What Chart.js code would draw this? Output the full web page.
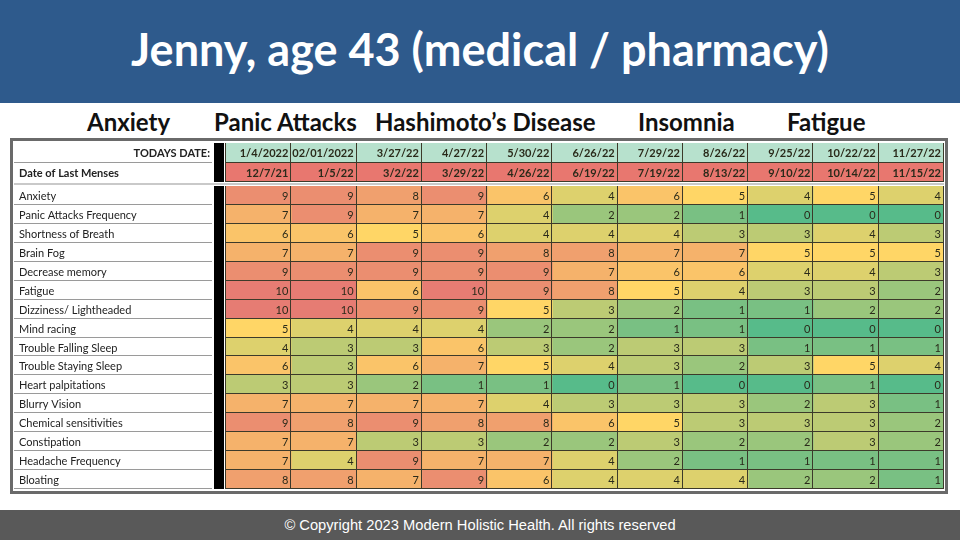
<!DOCTYPE html>
<html>
<head>
<meta charset="utf-8">
<script src="https://cdn.jsdelivr.net/npm/chart.js@4.4.1/dist/chart.umd.min.js"></script>
<style>
  html, body { margin: 0; padding: 0; background: #fff; }
  #page { position: relative; width: 960px; height: 540px; overflow: hidden; font-family: Lato, sans-serif; }
  #titleBar { position: absolute; left: 0; top: 0; width: 960px; height: 103px; background: #2e5a8c; }
  #title { position: absolute; left: 0; top: 22px; width: 960px; text-align: center; color: #fff; font: bold 45px Lato, sans-serif; }
  .grp { position: absolute; top: 107px; font: bold 24px Lato, sans-serif; color: #111; white-space: nowrap; }
  #frame { position: absolute; left: 10px; top: 138px; width: 938px; height: 356px; box-sizing: border-box; border: 3px solid #6a6a6a; background: #fff; }
  #sep { position: absolute; left: 14px; top: 183px; width: 930px; height: 2px; background: #c9c9c9; }
  canvas { position: absolute; }
  #footer { position: absolute; left: 0; top: 510px; width: 960px; height: 30px; background: #595959; color: #fff; text-align: center; font: 14.7px "Liberation Sans", Arial, sans-serif; line-height: 30px; }
</style>
</head>
<body>
<div id="page">
  <div id="titleBar"></div>
  <div id="title">Jenny, age 43 (medical / pharmacy)</div>
  <div class="grp" style="left:87px">Anxiety</div>
  <div class="grp" style="left:214px">Panic Attacks</div>
  <div class="grp" style="left:375px">Hashimoto’s Disease</div>
  <div class="grp" style="left:638px">Insomnia</div>
  <div class="grp" style="left:787px">Fatigue</div>
  <div id="frame"></div>
  <canvas id="head" width="930" height="39" style="left:14px;top:143px"></canvas>
  <div id="sep"></div>
  <canvas id="grid" width="930" height="303" style="left:14px;top:186px"></canvas>
  <div id="footer">© Copyright 2023 Modern Holistic Health. All rights reserved</div>
</div>
<script>
const todaysDates = ["1/4/2022", "02/01/2022", "3/27/22", "4/27/22", "5/30/22", "6/26/22", "7/29/22", "8/26/22", "9/25/22", "10/22/22", "11/27/22"];
const lastMenses = ["12/7/21", "1/5/22", "3/2/22", "3/29/22", "4/26/22", "6/19/22", "7/19/22", "8/13/22", "9/10/22", "10/14/22", "11/15/22"];
const headerLabels = ["TODAYS DATE:", "Date of Last Menses"];

const symptoms = ["Anxiety", "Panic Attacks Frequency", "Shortness of Breath", "Brain Fog", "Decrease memory", "Fatigue",
  "Dizziness/ Lightheaded", "Mind racing", "Trouble Falling Sleep", "Trouble Staying Sleep", "Heart palpitations",
  "Blurry Vision", "Chemical sensitivities", "Constipation", "Headache Frequency", "Bloating"];

const anxiety        = [9, 9, 8, 9, 6, 4, 6, 5, 4, 5, 4];
const panicAttacks   = [7, 9, 7, 7, 4, 2, 2, 1, 0, 0, 0];
const shortBreath    = [6, 6, 5, 6, 4, 4, 4, 3, 3, 4, 3];
const brainFog       = [7, 7, 9, 9, 8, 8, 7, 7, 5, 5, 5];
const memory         = [9, 9, 9, 9, 9, 7, 6, 6, 4, 4, 3];
const fatigue        = [10, 10, 6, 10, 9, 8, 5, 4, 3, 3, 2];
const dizziness      = [10, 10, 9, 9, 5, 3, 2, 1, 1, 2, 2];
const mindRacing     = [5, 4, 4, 4, 2, 2, 1, 1, 0, 0, 0];
const fallingSleep   = [4, 3, 3, 6, 3, 2, 3, 3, 1, 1, 1];
const stayingSleep   = [6, 3, 6, 7, 5, 4, 3, 2, 3, 5, 4];
const palpitations   = [3, 3, 2, 1, 1, 0, 1, 0, 0, 1, 0];
const blurryVision   = [7, 7, 7, 7, 4, 3, 3, 3, 2, 3, 1];
const chemicalSens   = [9, 8, 9, 8, 8, 6, 5, 3, 3, 3, 2];
const constipation   = [7, 7, 3, 3, 2, 2, 3, 2, 2, 3, 2];
const headache       = [7, 4, 9, 7, 7, 4, 2, 1, 1, 1, 1];
const bloating       = [8, 8, 7, 9, 6, 4, 4, 4, 2, 2, 1];

const scores = [anxiety, panicAttacks, shortBreath, brainFog, memory, fatigue, dizziness, mindRacing,
  fallingSleep, stayingSleep, palpitations, blurryVision, chemicalSens, constipation, headache, bloating];

// 0 green -> 5 yellow -> 10 red, like a spreadsheet colour scale
const low = [87, 187, 138], mid = [255, 214, 102], high = [230, 124, 115];
function heat(v) {
  let a, b, t;
  if (v <= 5) { a = low; b = mid; t = v / 5; } else { a = mid; b = high; t = (v - 5) / 5; }
  const c = a.map((x, i) => Math.round(x + (b[i] - x) * t));
  return "rgb(" + c.join(",") + ")";
}

// draws the left label column, black divider, cell text and cell lines
const tablePlugin = {
  id: "tablePlugin",
  afterDatasetsDraw(chart, args, opts) {
    const ctx = chart.ctx, area = chart.chartArea, y = chart.scales.y, x = chart.scales.x;
    const labels = chart.data.labels;
    const rowH = (area.bottom - area.top) / labels.length;
    ctx.save();
    // black divider
    ctx.fillStyle = "#000";
    ctx.fillRect(area.left - 12, area.top, 10, area.bottom - area.top);
    // label column lines + text
    ctx.strokeStyle = "#9a9a9a";
    ctx.lineWidth = 1;
    labels.forEach((lab, i) => {
      const cy = y.getPixelForValue(i);
      const bot = Math.round(cy + rowH / 2) - 0.5;
      if (i < labels.length - 1 || opts.lastLine) {
        ctx.beginPath(); ctx.moveTo(0, bot); ctx.lineTo(area.left - 14, bot); ctx.stroke();
      }
      const right = opts.rightAlign && opts.rightAlign[i];
      ctx.font = (opts.bold ? "bold " : "") + "11px Lato, sans-serif";
      ctx.fillStyle = "#222";
      ctx.textBaseline = "middle";
      ctx.textAlign = right ? "right" : "left";
      ctx.fillText(lab, right ? area.left - 16 : 5, cy + 1);
    });
    // cell text
    ctx.font = (opts.bold ? "bold " : "") + "11px Lato, sans-serif";
    ctx.textAlign = "right";
    ctx.fillStyle = "#2a2a1a";
    chart.data.datasets.forEach((ds, j) => {
      chart.getDatasetMeta(j).data.forEach((el, i) => {
        ctx.fillText(opts.text(i, j), el.x - 3, el.y + 1);
      });
    });
    // cell grid
    ctx.strokeStyle = "#3c3a2a";
    for (let j = 0; j <= 11; j++) {
      const px = Math.round(x.getPixelForValue(j)) - 0.5;
      ctx.beginPath(); ctx.moveTo(px, area.top); ctx.lineTo(px, area.bottom); ctx.stroke();
    }
    for (let i = 0; i <= labels.length; i++) {
      const py = Math.round(area.top + i * rowH) - 0.5;
      ctx.beginPath(); ctx.moveTo(area.left, py); ctx.lineTo(area.right, py); ctx.stroke();
    }
    ctx.restore();
  }
};

function makeTable(canvasId, labels, colorOf, textOf, extra) {
  const datasets = todaysDates.map((d, j) => ({
    label: d,
    data: labels.map(() => [j, j + 1]),
    backgroundColor: c => colorOf(c.dataIndex, j),
    borderWidth: 0,
    grouped: false,
    barPercentage: 1,
    categoryPercentage: 1
  }));
  return new Chart(document.getElementById(canvasId), {
    type: "bar",
    data: { labels: labels, datasets: datasets },
    options: {
      indexAxis: "y",
      responsive: false,
      animation: false,
      layout: { padding: { left: 212, right: 0, top: 0, bottom: 0 } },
      scales: {
        x: { type: "linear", min: 0, max: 11, display: false },
        y: { display: false }
      },
      plugins: {
        legend: { display: false },
        tooltip: { enabled: false },
        tablePlugin: Object.assign({ text: textOf }, extra)
      }
    },
    plugins: [tablePlugin]
  });
}

function build() {
  makeTable("head", headerLabels,
    (i) => i === 0 ? "#b7e1cd" : "#e8776f",
    (i, j) => i === 0 ? todaysDates[j] : lastMenses[j],
    { bold: true, rightAlign: [true, false], lastLine: false });
  makeTable("grid", symptoms,
    (i, j) => heat(scores[i][j]),
    (i, j) => String(scores[i][j]),
    { bold: false, lastLine: true });
}
document.fonts.ready.then(build);
</script>
</body>
</html>
